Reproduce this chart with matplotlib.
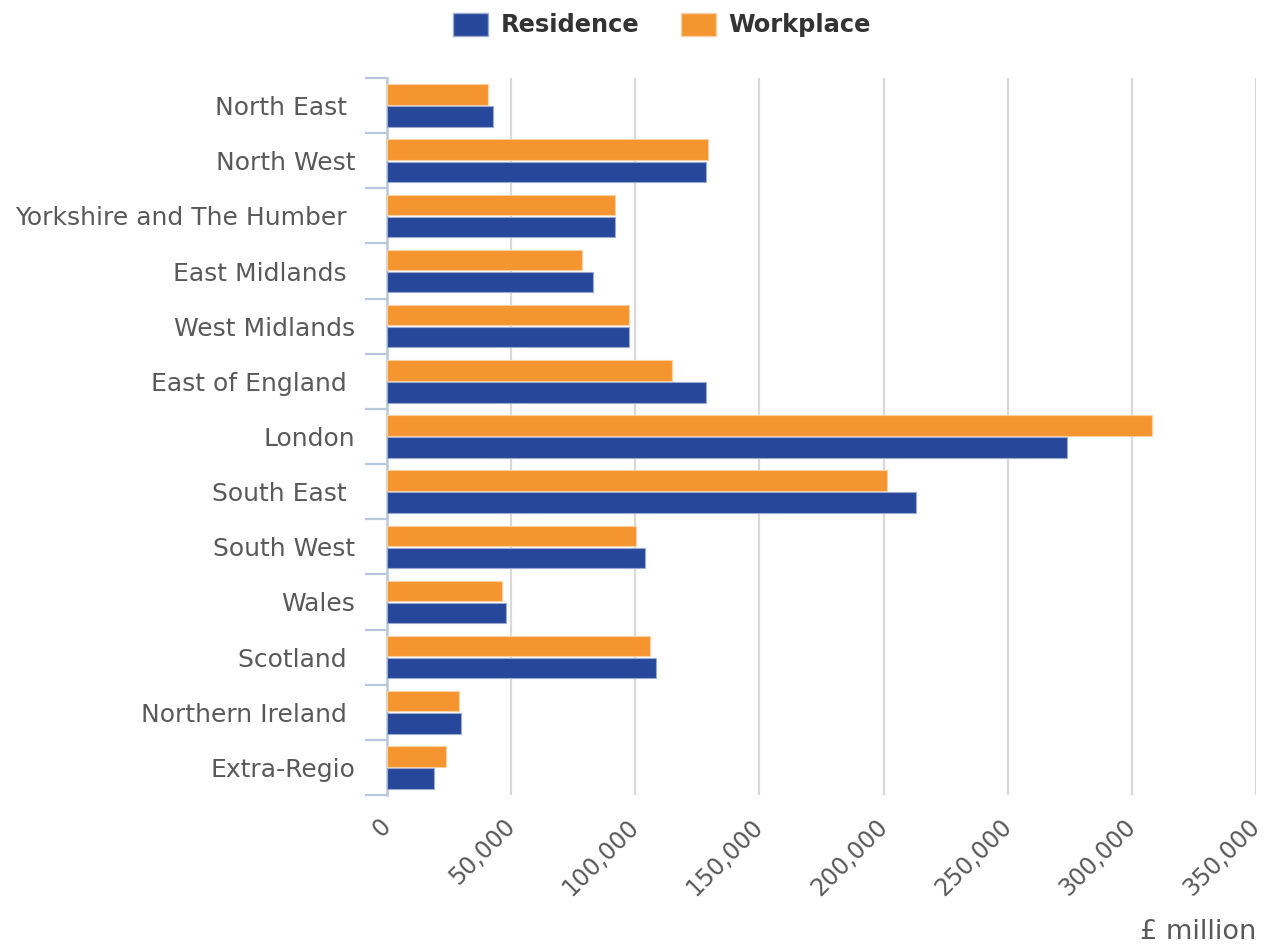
import numpy as np
import matplotlib
matplotlib.use("Agg")
import matplotlib.pyplot as plt
from matplotlib.patches import Patch

# -------- Data (£ million) --------
regions = ["North East ", "North West", "Yorkshire and The Humber ", "East Midlands ",
           "West Midlands", "East of England ", "London", "South East ", "South West",
           "Wales", "Scotland ", "Northern Ireland ", "Extra-Regio"]
workplace = [40700, 129300, 91800, 78500, 97500, 114800, 308100, 201400, 100300,
             46300, 105900, 29000, 23800]
residence = [42700, 128500, 91800, 83000, 97500, 128500, 273900, 213100, 103900,
             47900, 108300, 29800, 18900]
xticks = [0, 50000, 100000, 150000, 200000, 250000, 300000, 350000]

BLUE = "#27479A"
ORANGE = "#F5952F"
GREY = "#595959"
AXIS = "#B8C8DC"

fig = plt.figure(figsize=(12.65, 9.46), dpi=100)
ax = fig.add_axes([387 / 1265, 1 - 795 / 946, 869 / 1265, 717 / 946])

y = np.arange(len(regions))
h = 0.37
ax.barh(y - 0.2, workplace, height=h, color=ORANGE, edgecolor="#FBD0A5", linewidth=0.8, zorder=3)
ax.barh(y + 0.2, residence, height=h, color=BLUE, edgecolor="#9AAAD0", linewidth=0.8, zorder=3)

ax.set_xlim(0, 350000)
ax.set_ylim(len(regions) - 0.5, -0.5)

# -------- Grid / axes --------
ax.set_xticks(xticks)
ax.set_xticklabels([f"{v:,}" for v in xticks], rotation=45, ha="right", va="center",
                   rotation_mode="anchor", color=GREY, fontsize=17)
ax.tick_params(axis="x", length=0, pad=20)
for v in xticks[1:]:
    ax.axvline(v, color="#D9D9D9", linewidth=1.6, zorder=1)

ax.set_yticks(np.arange(-0.5, len(regions), 1.0))
ax.set_yticklabels([])
ax.set_yticks(y, minor=True)
ax.set_yticklabels(regions, minor=True, color=GREY, fontsize=18)
ax.tick_params(axis="y", which="major", length=16, width=1.6, color=AXIS, direction="out")
ax.tick_params(axis="y", which="minor", length=0, pad=23)

for s in ["top", "right", "bottom"]:
    ax.spines[s].set_visible(False)
ax.spines["left"].set_color(AXIS)
ax.spines["left"].set_linewidth(1.8)

fig.text(1256 / 1265, 1 - 932 / 946, "£ million", ha="right", va="center",
         color=GREY, fontsize=19.5)

# -------- Legend --------
handles = [Patch(facecolor=BLUE, edgecolor="#9AAAD0"), Patch(facecolor=ORANGE, edgecolor="#FBD0A5")]
leg = fig.legend(handles, ["Residence", "Workplace"], loc="center", ncol=2,
                 bbox_to_anchor=(662 / 1265, 1 - 25 / 946), frameon=False,
                 prop={"weight": "bold", "size": 17.4}, handlelength=1.45, handleheight=1.1,
                 handletextpad=0.5, columnspacing=1.75)
for t in leg.get_texts():
    t.set_color("#333333")

plt.savefig("out.png", dpi=100)
